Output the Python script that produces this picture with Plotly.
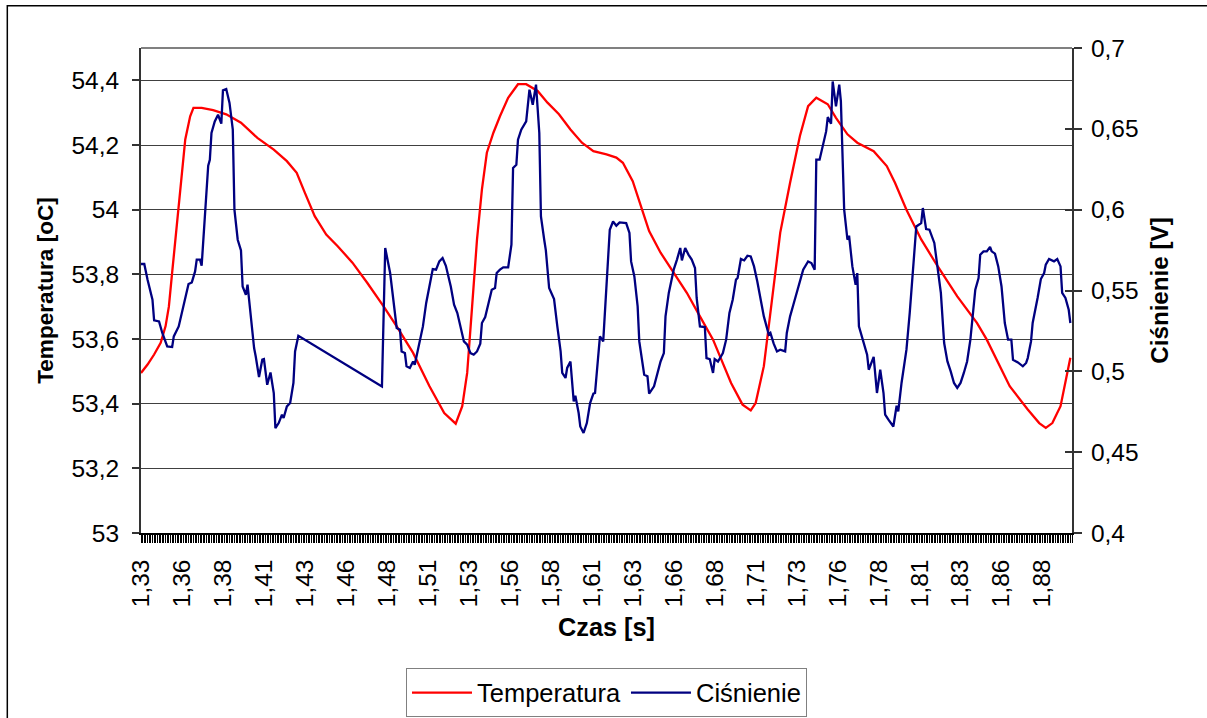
import plotly.graph_objects as go

# ---- data ----
temp_t = [1.330, 1.334, 1.338, 1.342, 1.345, 1.347, 1.349, 1.351, 1.353, 1.355, 1.357, 1.360, 1.362,
          1.367, 1.374, 1.382, 1.391, 1.401, 1.411, 1.419, 1.425, 1.430, 1.436, 1.443, 1.450, 1.459,
          1.468, 1.478, 1.486, 1.496, 1.506, 1.515, 1.522, 1.526, 1.529, 1.532, 1.535, 1.538, 1.541,
          1.545, 1.549, 1.554, 1.560, 1.565, 1.572, 1.578, 1.585, 1.592, 1.599, 1.606, 1.614, 1.620,
          1.624, 1.630, 1.635, 1.640, 1.647, 1.655, 1.663, 1.671, 1.679, 1.690, 1.697, 1.702, 1.705,
          1.710, 1.715, 1.720, 1.726, 1.732, 1.737, 1.742, 1.749, 1.754, 1.761, 1.767, 1.777, 1.785,
          1.790, 1.797, 1.806, 1.816, 1.828, 1.840, 1.846, 1.852, 1.860, 1.871, 1.878, 1.882, 1.886,
          1.891, 1.897]
temp_v = [53.495, 53.521, 53.552, 53.588, 53.640, 53.700, 53.805, 53.908, 54.011, 54.114, 54.217, 54.289, 54.315,
          54.315, 54.308, 54.295, 54.269, 54.222, 54.186, 54.150, 54.114, 54.052, 53.980, 53.923, 53.887, 53.836,
          53.774, 53.701, 53.639, 53.557, 53.454, 53.371, 53.338, 53.392, 53.495, 53.700, 53.908, 54.063, 54.176,
          54.238, 54.289, 54.346, 54.388, 54.388, 54.367, 54.331, 54.295, 54.248, 54.207, 54.181, 54.171, 54.161,
          54.145, 54.088, 54.011, 53.934, 53.867, 53.805, 53.743, 53.670, 53.598, 53.464, 53.397, 53.379, 53.402,
          53.516, 53.722, 53.929, 54.083, 54.228, 54.320, 54.346, 54.326, 54.284, 54.233, 54.207, 54.181, 54.135,
          54.083, 54.000, 53.908, 53.825, 53.732, 53.650, 53.598, 53.536, 53.454, 53.382, 53.340, 53.325, 53.340,
          53.392, 53.542]

pres_t = [1.330, 1.332, 1.334, 1.337, 1.338, 1.341, 1.343, 1.346, 1.349, 1.350, 1.353, 1.355, 1.357,
          1.359, 1.361, 1.363, 1.364, 1.366, 1.367, 1.369, 1.371, 1.372, 1.373, 1.375, 1.377, 1.379,
          1.380, 1.382, 1.384, 1.386, 1.387, 1.389, 1.391, 1.392, 1.394, 1.395, 1.397, 1.399, 1.400,
          1.402, 1.404, 1.405, 1.407, 1.409, 1.411, 1.412, 1.414, 1.416, 1.417, 1.419, 1.421, 1.423,
          1.424, 1.426, 1.477, 1.479, 1.482, 1.484, 1.486, 1.488, 1.489, 1.491, 1.492, 1.494, 1.496,
          1.497, 1.499, 1.501, 1.502, 1.504, 1.506, 1.508, 1.510, 1.512, 1.514, 1.516, 1.519, 1.521,
          1.523, 1.525, 1.527, 1.529, 1.531, 1.533, 1.535, 1.537, 1.538, 1.540, 1.542, 1.544, 1.546,
          1.547, 1.549, 1.551, 1.554, 1.556, 1.557, 1.559, 1.560, 1.562, 1.565, 1.567, 1.569, 1.571,
          1.573, 1.574, 1.576, 1.577, 1.579, 1.581, 1.582, 1.584, 1.586, 1.587, 1.589, 1.590, 1.592,
          1.594, 1.595, 1.597, 1.598, 1.600, 1.602, 1.604, 1.606, 1.607, 1.608, 1.610, 1.612, 1.614,
          1.616, 1.618, 1.620, 1.622, 1.626, 1.628, 1.629, 1.631, 1.633, 1.634, 1.637, 1.639, 1.640,
          1.643, 1.645, 1.647, 1.649, 1.650, 1.652, 1.655, 1.657, 1.659, 1.660, 1.662, 1.664, 1.666,
          1.668, 1.669, 1.671, 1.674, 1.675, 1.677, 1.679, 1.680, 1.682, 1.685, 1.687, 1.689, 1.691,
          1.693, 1.694, 1.696, 1.698, 1.700, 1.702, 1.704, 1.706, 1.708, 1.710, 1.713, 1.714, 1.716,
          1.718, 1.720, 1.723, 1.724, 1.726, 1.728, 1.730, 1.732, 1.734, 1.737, 1.739, 1.741, 1.742,
          1.744, 1.746, 1.748, 1.749, 1.751, 1.752, 1.754, 1.756, 1.757, 1.759, 1.761, 1.762, 1.764,
          1.766, 1.767, 1.768, 1.771, 1.773, 1.774, 1.776, 1.777, 1.779, 1.781, 1.783, 1.784, 1.786,
          1.789, 1.791, 1.792, 1.794, 1.797, 1.799, 1.801, 1.803, 1.806, 1.807, 1.809, 1.811, 1.814,
          1.816, 1.818, 1.820, 1.822, 1.824, 1.826, 1.828, 1.830, 1.832, 1.834, 1.836, 1.838, 1.839,
          1.841, 1.842, 1.844, 1.846, 1.848, 1.849, 1.851, 1.853, 1.855, 1.857, 1.859, 1.861, 1.862,
          1.865, 1.868, 1.870, 1.871, 1.873, 1.874, 1.876, 1.877, 1.879, 1.881, 1.882, 1.884, 1.887,
          1.889, 1.891, 1.892, 1.894, 1.896, 1.897]
pres_v = [0.5664, 0.5664, 0.5567, 0.5443, 0.5315, 0.5309, 0.5237, 0.5154, 0.5150, 0.5216, 0.5278, 0.5361, 0.5454,
          0.5540, 0.5550, 0.5618, 0.5691, 0.5691, 0.5653, 0.5979, 0.6272, 0.6309, 0.6474, 0.6546, 0.6587, 0.6532,
          0.6738, 0.6746, 0.6660, 0.6495, 0.6000, 0.5814, 0.5748, 0.5525, 0.5474, 0.5536, 0.5319, 0.5144, 0.5092,
          0.4965, 0.5072, 0.5076, 0.4917, 0.4993, 0.4866, 0.4649, 0.4680, 0.4732, 0.4711, 0.4783, 0.4804, 0.4928,
          0.5123, 0.5220, 0.4907, 0.5763, 0.5608, 0.5443, 0.5268, 0.5257, 0.5123, 0.5113, 0.5031, 0.5021, 0.5061,
          0.5041, 0.5134, 0.5237, 0.5278, 0.5423, 0.5536, 0.5633, 0.5629, 0.5680, 0.5701, 0.5653, 0.5525, 0.5412,
          0.5361, 0.5278, 0.5185, 0.5165, 0.5113, 0.5103, 0.5123, 0.5171, 0.5299, 0.5336, 0.5423, 0.5505, 0.5515,
          0.5608, 0.5629, 0.5643, 0.5643, 0.5783, 0.6258, 0.6278, 0.6433, 0.6495, 0.6546, 0.6742, 0.6649, 0.6773,
          0.6474, 0.5958, 0.5814, 0.5748, 0.5515, 0.5464, 0.5447, 0.5278, 0.5123, 0.4990, 0.4959, 0.5021, 0.5061,
          0.4814, 0.4849, 0.4742, 0.4659, 0.4619, 0.4680, 0.4804, 0.4862, 0.4866, 0.4990, 0.5216, 0.5185, 0.5505,
          0.5876, 0.5927, 0.5901, 0.5921, 0.5917, 0.5856, 0.5680, 0.5587, 0.5402, 0.5185, 0.4979, 0.4969, 0.4862,
          0.4907, 0.4990, 0.5061, 0.5113, 0.5340, 0.5485, 0.5629, 0.5691, 0.5763, 0.5686, 0.5763, 0.5722, 0.5691,
          0.5639, 0.5454, 0.5278, 0.5274, 0.5082, 0.5076, 0.4990, 0.5076, 0.5061, 0.5113, 0.5196, 0.5361, 0.5443,
          0.5567, 0.5577, 0.5695, 0.5686, 0.5715, 0.5711, 0.5649, 0.5556, 0.5443, 0.5340, 0.5227, 0.5237, 0.5171,
          0.5123, 0.5134, 0.5123, 0.5237, 0.5340, 0.5412, 0.5485, 0.5567, 0.5629, 0.5680, 0.5670, 0.5629, 0.6309,
          0.6309, 0.6402, 0.6484, 0.6573, 0.6532, 0.6793, 0.6639, 0.6773, 0.6670, 0.6000, 0.5814, 0.5839, 0.5649,
          0.5536, 0.5608, 0.5278, 0.5175, 0.5103, 0.5010, 0.5061, 0.5089, 0.4866, 0.5010, 0.4866, 0.4732, 0.4701,
          0.4659, 0.4787, 0.4752, 0.4928, 0.5134, 0.5361, 0.5629, 0.5896, 0.5917, 0.6010, 0.5880, 0.5876, 0.5794,
          0.5649, 0.5485, 0.5175, 0.5061, 0.5000, 0.4928, 0.4897, 0.4928, 0.4990, 0.5061, 0.5196, 0.5423, 0.5505,
          0.5577, 0.5721, 0.5742, 0.5742, 0.5769, 0.5742, 0.5728, 0.5649, 0.5525, 0.5299, 0.5196, 0.5196, 0.5072,
          0.5055, 0.5031, 0.5052, 0.5082, 0.5185, 0.5299, 0.5392, 0.5454, 0.5571, 0.5608, 0.5660, 0.5695, 0.5680,
          0.5695, 0.5649, 0.5485, 0.5454, 0.5381, 0.5299]

x_tickvals = [1.330, 1.355, 1.380, 1.405, 1.430, 1.455, 1.480, 1.505, 1.530, 1.555, 1.580, 1.605,
              1.630, 1.655, 1.680, 1.705, 1.730, 1.755, 1.780, 1.805, 1.830, 1.855, 1.880]
x_ticktext = ["1,33", "1,36", "1,38", "1,41", "1,43", "1,46", "1,48", "1,51", "1,53", "1,56", "1,58", "1,61",
              "1,63", "1,66", "1,68", "1,71", "1,73", "1,76", "1,78", "1,81", "1,83", "1,86", "1,88"]
y1_tickvals = [53.0, 53.2, 53.4, 53.6, 53.8, 54.0, 54.2, 54.4]
y1_ticktext = ["53", "53,2", "53,4", "53,6", "53,8", "54", "54,2", "54,4"]
y2_tickvals = [0.40, 0.45, 0.50, 0.55, 0.60, 0.65, 0.70]
y2_ticktext = ["0,4", "0,45", "0,5", "0,55", "0,6", "0,65", "0,7"]

FONT = "Liberation Sans, Arial, sans-serif"

fig = go.Figure()
fig.add_trace(go.Scatter(x=temp_t, y=temp_v, mode="lines", name="Temperatura",
                         line=dict(color="#FF0000", width=2.3), yaxis="y"))
fig.add_trace(go.Scatter(x=pres_t, y=pres_v, mode="lines", name="Ciśnienie",
                         line=dict(color="#000080", width=2.3), yaxis="y2"))
# helper trace so the crossing (inside) ticks of the right axis get drawn
fig.add_trace(go.Scatter(x=[None], y=[None], yaxis="y3", showlegend=False, hoverinfo="skip"))

fig.update_layout(
    width=1207, height=718,
    margin=dict(l=141, r=135, t=48, b=185, pad=0, autoexpand=False),
    paper_bgcolor="white", plot_bgcolor="white",
    font=dict(family=FONT, size=24, color="black"),
    showlegend=True,
    legend=dict(orientation="h", x=0.5, xanchor="center", xref="paper",
                y=0.069, yanchor="top", yref="container",
                bordercolor="#808080", borderwidth=1, font=dict(size=25.5),
                itemwidth=60, bgcolor="white"),
    xaxis=dict(range=[1.330, 1.898], tickmode="array", tickvals=x_tickvals, ticktext=x_ticktext,
               tickangle=-90, ticks="outside", ticklen=8, tickcolor="black", tickwidth=1,
               ticklabelstandoff=7, automargin=False,
               minor=dict(tick0=1.330, dtick=0.001, ticks="outside", ticklen=8,
                          tickcolor="black", tickwidth=1, showgrid=False),
               showline=True, linecolor="black", linewidth=1.5, showgrid=False, zeroline=False,
               tickfont=dict(size=24.5),
               title=dict(text="<b>Czas [s]</b>", font=dict(size=25.3), standoff=12)),
    yaxis=dict(range=[53, 54.5], tickmode="array", tickvals=y1_tickvals, ticktext=y1_ticktext,
               ticks="outside", ticklen=7, tickcolor="#333333", tickwidth=1.5,
               ticklabelstandoff=8, automargin=False,
               showline=True, linecolor="#333333", linewidth=2, showgrid=True, gridcolor="#404040",
               gridwidth=1, zeroline=False, tickfont=dict(size=24.5),
               title=dict(text="<b>Temperatura [oC]</b>", font=dict(size=22.6), standoff=12)),
    yaxis2=dict(range=[0.4, 0.7], overlaying="y", side="right", anchor="x",
                tickmode="array", tickvals=y2_tickvals, ticktext=y2_ticktext,
                ticks="outside", ticklen=8, tickcolor="#333333", tickwidth=1.5,
                ticklabelstandoff=4, automargin=False,
                showline=True, linecolor="#333333", linewidth=2, showgrid=False, zeroline=False,
                tickfont=dict(size=24.5),
                title=dict(text="<b>Ciśnienie [V]</b>", font=dict(size=24.2), standoff=13)),
    yaxis3=dict(range=[0.4, 0.7], overlaying="y", side="right", anchor="x",
                tickmode="array", tickvals=y2_tickvals, ticks="inside", ticklen=7,
                tickcolor="#333333", tickwidth=1.5, showticklabels=False, automargin=False,
                showline=False, showgrid=False, zeroline=False),
    shapes=[
        # plot area top border (grey)
        dict(type="line", xref="paper", yref="paper", x0=0, x1=1, y0=1, y1=1,
             line=dict(color="#808080", width=2)),
        # outer chart frame
        dict(type="rect", xref="paper", yref="paper", x0=-0.1436, x1=1.16, y0=-0.40, y1=1.0872,
             line=dict(color="black", width=1.5), layer="below"),
    ],
)

fig.write_html("out.html", config={"displayModeBar": False},
               post_script="document.body.style.margin='0';")
